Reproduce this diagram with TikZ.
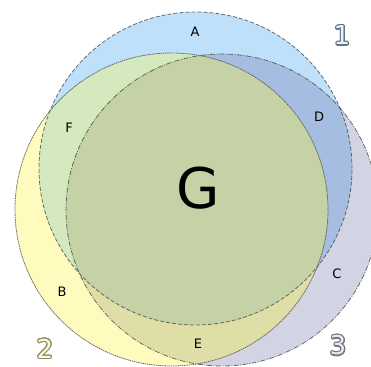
\documentclass[tikz,border=0pt]{standalone}
\usepackage{fontspec}
\setmainfont{DejaVu Sans}
\usepackage{contour}
\contournumber{16}
\definecolor{cone}{HTML}{BFE0FA}
\definecolor{ctwo}{HTML}{FFFBBE}
\definecolor{cthree}{HTML}{D2D3E3}
\definecolor{cD}{HTML}{A4BDE0}
\definecolor{cF}{HTML}{D4E9BE}
\definecolor{cE}{HTML}{E0DEA7}
\definecolor{cG}{HTML}{C5D2A5}
\tikzset{
  lbl/.style={font=\fontsize{13}{15}\selectfont, inner sep=0pt},
  big/.style={font=\fontsize{56}{60}\selectfont, inner sep=0pt},
  digit/.style={font=\fontsize{26}{28}\selectfont, inner sep=0pt},
  edgeone/.style={draw=black!75, opacity=0.75, line width=0.8pt, dash pattern=on 4pt off 2pt},
  edgetwo/.style={draw=black!75, opacity=0.75, line width=0.8pt, dash pattern=on 1.5pt off 0.7pt},
  edgethree/.style={draw=black!75, opacity=0.75, line width=0.8pt, dash pattern=on 5pt off 1.5pt on 1pt off 1.5pt},
}
\begin{document}
\begin{tikzpicture}[x=1pt,y=-1pt]
\useasboundingbox (0,0) rectangle (371,366);
\clip (0,0) rectangle (371,366);
\def\circone{(195.5,168.5) circle (156.5pt)}
\def\circtwo{(171.5,209.5) circle (156.5pt)}
\def\circthree{(222,210) circle (156pt)}
\fill[cthree] \circthree;
\fill[ctwo] \circtwo;
\fill[cone] \circone;
\begin{scope}\clip \circone; \fill[cD] \circthree; \end{scope}
\begin{scope}\clip \circone; \fill[cF] \circtwo; \end{scope}
\begin{scope}\clip \circtwo; \fill[cE] \circthree; \end{scope}
\begin{scope}\clip \circone; \clip \circtwo; \fill[cG] \circthree; \end{scope}
\draw[edgeone] \circone;
\draw[edgetwo] \circtwo;
\draw[edgethree] \circthree;
\node[lbl] (A) at (195,32) {A};
\node[lbl] (F) at (69,128) {F};
\node[lbl] (D) at (319,117) {D};
\node[big] (G) at (198,188) {G};
\node[lbl] (C) at (337,274) {C};
\node[lbl] (B) at (62,292) {B};
\node[lbl] (E) at (198,344) {E};
\contourlength{1.1pt}
\node[digit] (one) at (342,36) {\contour{black!40!cD}{\color{cone!40!white}1}};
\node[digit] (two) at (45,349) {\contour{black!45!ctwo}{\color{ctwo!60!white}2}};
\node[digit] (three) at (338,346) {\contour{black!45!cthree}{\color{cthree!50!white}3}};
\end{tikzpicture}
\end{document}
